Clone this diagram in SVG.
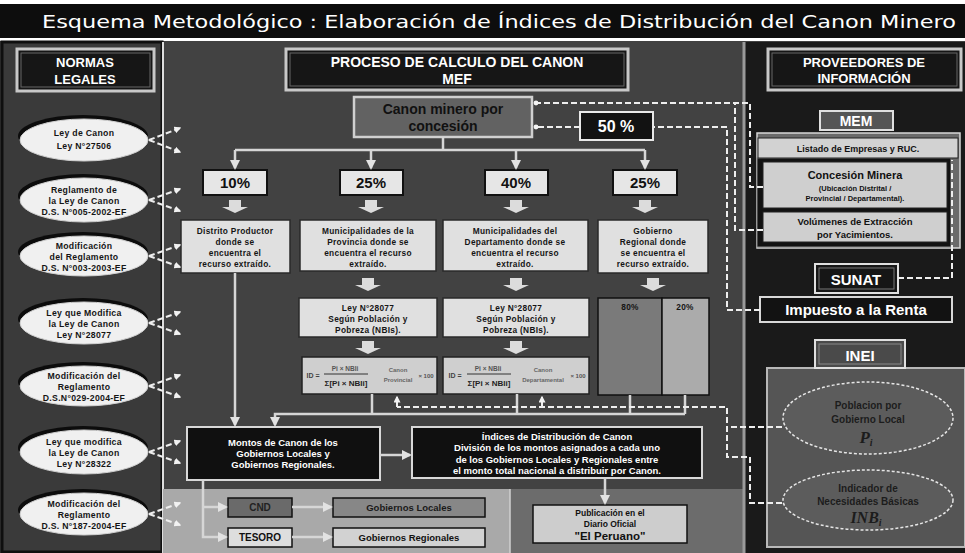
<svg xmlns="http://www.w3.org/2000/svg" width="965" height="553" viewBox="0 0 965 553">
<defs>
<marker id="ah" viewBox="0 0 10 10" refX="8" refY="5" markerWidth="4" markerHeight="4" orient="auto"><path d="M0,0 L10,5 L0,10 z" fill="#e2e2e2"/></marker>
<marker id="ahd" viewBox="0 0 10 10" refX="8" refY="5" markerWidth="3.5" markerHeight="3.5" orient="auto"><path d="M0,0 L10,5 L0,10 z" fill="#f2f2f2"/></marker>
<marker id="dot" viewBox="0 0 10 10" refX="5" refY="5" markerWidth="3" markerHeight="3"><circle cx="5" cy="5" r="4" fill="#f2f2f2"/></marker>
<path id="blk" d="M-6,0 L6,0 L6,7 L13,7 L0,13 L-13,7 L-6,7 Z" fill="#dcdcdc"/>
</defs>
<style>
text { font-family: "Liberation Sans", Arial, sans-serif; font-weight: bold; text-anchor: middle; }
.wt { fill: #ffffff; }
.bk { fill: #111111; }
.hdr { fill: #161616; stroke: #c8c8c8; stroke-width: 3; }
.hdr2 { fill: none; stroke: #666; stroke-width: 1; }
.pct { fill: #e6e6e6; stroke: #111; stroke-width: 2; }
.desc { fill: #e0e0e0; stroke: #2a2a2a; stroke-width: 1.5; }
.ell { fill: #f0f0f0; stroke: #cfcfcf; stroke-width: 1; }
.sh { fill: #0c0c0c; }
.ln { fill: none; stroke: #d6d6d6; stroke-width: 2.5; }
.dl { fill: none; stroke: #eeeeee; stroke-width: 2; stroke-dasharray: 6 3; }
.et { font-size: 8.7px; fill: #151515; letter-spacing: 0.3px; }
.dt { font-size: 8.3px; fill: #151515; letter-spacing: 0.3px; }
</style>

<!-- backgrounds -->
<rect x="0" y="0" width="965" height="553" fill="#ffffff"/>
<rect x="0" y="4" width="965" height="34" fill="#0d0d0d"/>
<rect x="0" y="41" width="965" height="512" fill="#424242"/>
<rect x="2" y="42" width="160" height="510" fill="#3a3a3a" stroke="#0f0f0f" stroke-width="3"/>
<line x1="163" y1="42" x2="163" y2="553" stroke="#dddddd" stroke-width="2"/>
<rect x="163" y="489" width="347" height="64" fill="#a9a9a9"/>
<rect x="510" y="489" width="234" height="64" fill="#6c6c6c"/>
<line x1="510" y1="489" x2="510" y2="553" stroke="#d0d0d0" stroke-width="1.5"/>
<rect x="744" y="42" width="221" height="511" fill="#1a1a1a"/>
<line x1="744" y1="42" x2="744" y2="553" stroke="#9a9a9a" stroke-width="3"/>

<g id="title">
<text x="42" y="28" style="font-family:'DejaVu Sans',Verdana,sans-serif;font-weight:normal;text-anchor:start;font-size:18px" fill="#ffffff" textLength="914" lengthAdjust="spacingAndGlyphs">Esquema Metodológico : Elaboración de Índices de Distribución del Canon Minero</text>
</g>

<!-- LEFT COLUMN -->
<g id="normas-legales">
<rect class="hdr" x="17" y="49" width="137" height="42"/>
<rect class="hdr2" x="21" y="53" width="129" height="34"/>
<text class="wt" x="85" y="67" font-size="13">NORMAS</text>
<text class="wt" x="85" y="84" font-size="13">LEGALES</text>
</g>

<g id="ley-canon">
<ellipse class="sh" cx="83" cy="136" rx="65" ry="21"/>
<ellipse class="ell" cx="84" cy="140" rx="64" ry="21"/>
<text class="et" x="84" y="136">Ley de Canon</text>
<text class="et" x="84" y="149">Ley N°27506</text>
</g>
<g id="reglamento-ley">
<ellipse class="sh" cx="83" cy="196" rx="65" ry="22"/>
<ellipse class="ell" cx="84" cy="200" rx="64" ry="22"/>
<text class="et" x="84" y="193">Reglamento de</text>
<text class="et" x="84" y="204">la Ley de Canon</text>
<text class="et" x="84" y="215">D.S. N°005-2002-EF</text>
</g>
<g id="modif-reglamento-2003">
<ellipse class="sh" cx="83" cy="252" rx="65" ry="20"/>
<ellipse class="ell" cx="84" cy="256" rx="64" ry="20"/>
<text class="et" x="84" y="249">Modificación</text>
<text class="et" x="84" y="260">del Reglamento</text>
<text class="et" x="84" y="271">D.S. N°003-2003-EF</text>
</g>
<g id="ley-28077">
<ellipse class="sh" cx="83" cy="319" rx="65" ry="21"/>
<ellipse class="ell" cx="84" cy="323" rx="64" ry="21"/>
<text class="et" x="84" y="316">Ley que Modifica</text>
<text class="et" x="84" y="327">la Ley de Canon</text>
<text class="et" x="84" y="338">Ley N°28077</text>
</g>
<g id="modif-reglamento-2004">
<ellipse class="sh" cx="83" cy="382" rx="65" ry="20"/>
<ellipse class="ell" cx="84" cy="386" rx="64" ry="20"/>
<text class="et" x="84" y="379">Modificación del</text>
<text class="et" x="84" y="390">Reglamento</text>
<text class="et" x="84" y="401">D.S.N°029-2004-EF</text>
</g>
<g id="ley-28322">
<ellipse class="sh" cx="83" cy="448" rx="65" ry="22"/>
<ellipse class="ell" cx="84" cy="452" rx="64" ry="22"/>
<text class="et" x="84" y="445">Ley que modifica</text>
<text class="et" x="84" y="456">la Ley de Canon</text>
<text class="et" x="84" y="467">Ley N°28322</text>
</g>
<g id="modif-reglamento-187">
<ellipse class="sh" cx="83" cy="510" rx="65" ry="21"/>
<ellipse class="ell" cx="84" cy="514" rx="64" ry="21"/>
<text class="et" x="84" y="507" font-size="8">Modificación del</text>
<text class="et" x="84" y="518" font-size="8">Reglamento</text>
<text class="et" x="84" y="529" font-size="8">D.S. N°187-2004-EF</text>
</g>

<!-- CENTER COLUMN -->
<g id="proceso-calculo">
<rect class="hdr" x="286" y="49" width="342" height="41"/>
<rect class="hdr2" x="290" y="53" width="334" height="33"/>
<text class="wt" x="457" y="67" font-size="14">PROCESO DE CALCULO DEL CANON</text>
<text class="wt" x="457" y="84" font-size="14">MEF</text>
</g>

<g id="canon-minero">
<rect x="354" y="97" width="178" height="40" fill="#626262" stroke="#d0d0d0" stroke-width="2.5"/>
<text class="bk" x="443" y="114" font-size="14">Canon minero por</text>
<text class="bk" x="443" y="131" font-size="14">concesión</text>
</g>

<g id="pct-50">
<rect x="580" y="112" width="73" height="28" fill="#121212" stroke="#e8e8e8" stroke-width="2"/>
<text class="wt" x="616" y="132" font-size="16">50 %</text>
</g>

<g id="pct-10">
<rect class="pct" x="203" y="170" width="64" height="25"/>
<text class="bk" x="235" y="188" font-size="15">10%</text>
</g>
<g id="pct-25a">
<rect class="pct" x="340" y="170" width="63" height="25"/>
<text class="bk" x="371" y="188" font-size="15">25%</text>
</g>
<g id="pct-40">
<rect class="pct" x="485" y="170" width="63" height="25"/>
<text class="bk" x="516" y="188" font-size="15">40%</text>
</g>
<g id="pct-25b">
<rect class="pct" x="613" y="170" width="64" height="25"/>
<text class="bk" x="645" y="188" font-size="15">25%</text>
</g>

<g id="distrito-productor">
<rect class="desc" x="181" y="220" width="109" height="53"/>
<text class="dt" x="235" y="234">Distrito Productor</text>
<text class="dt" x="235" y="245">donde se</text>
<text class="dt" x="235" y="256">encuentra el</text>
<text class="dt" x="235" y="267">recurso extraído.</text>
</g>
<g id="municipalidades-provincia">
<rect class="desc" x="300" y="220" width="136" height="51"/>
<text class="dt" x="368" y="234">Municipalidades de la</text>
<text class="dt" x="368" y="245">Provincia donde se</text>
<text class="dt" x="368" y="256">encuentra el recurso</text>
<text class="dt" x="368" y="267">extraído.</text>
</g>
<g id="municipalidades-departamento">
<rect class="desc" x="443" y="220" width="145" height="51"/>
<text class="dt" x="515" y="234">Municipalidades del</text>
<text class="dt" x="515" y="245">Departamento donde se</text>
<text class="dt" x="515" y="256">encuentra el recurso</text>
<text class="dt" x="515" y="267">extraído.</text>
</g>
<g id="gobierno-regional">
<rect class="desc" x="598" y="220" width="110" height="53"/>
<text class="dt" x="653" y="234">Gobierno</text>
<text class="dt" x="653" y="245">Regional donde</text>
<text class="dt" x="653" y="256">se encuentra el</text>
<text class="dt" x="653" y="267">recurso extraído.</text>
</g>

<g id="ley-pobreza-prov">
<rect class="desc" x="299" y="298" width="138" height="39"/>
<text class="dt" x="368" y="311">Ley N°28077</text>
<text class="dt" x="368" y="322">Según Población y</text>
<text class="dt" x="368" y="333">Pobreza (NBIs).</text>
</g>
<g id="ley-pobreza-dep">
<rect class="desc" x="443" y="298" width="146" height="39"/>
<text class="dt" x="516" y="311">Ley N°28077</text>
<text class="dt" x="516" y="322">Según Población y</text>
<text class="dt" x="516" y="333">Pobreza (NBIs).</text>
</g>
<g id="reparto-regional">
<rect x="598" y="298" width="64" height="97" fill="#7a7a7a" stroke="#111" stroke-width="1.5"/>
<rect x="662" y="298" width="47" height="97" fill="#ababab" stroke="#111" stroke-width="1.5"/>
<text class="dt" x="630" y="310">80%</text>
<text class="dt" x="685" y="310">20%</text>
</g>

<g id="formula-prov">
<rect x="302" y="357" width="135" height="37" fill="#cfcfcf" stroke="#222" stroke-width="1.5"/>
<text x="313" y="378" font-size="7" fill="#444" font-weight="normal">ID =</text>
<text x="345" y="371" font-size="6.5" fill="#555" font-weight="normal">Pi × NBIi</text>
<line x1="324" y1="374" x2="368" y2="374" stroke="#333" stroke-width="1"/>
<text x="346" y="386" font-size="8" fill="#222">Σ[Pi × NBIi]</text>
<text x="398" y="372" font-size="6" fill="#666" font-weight="normal">Canon</text>
<text x="398" y="382" font-size="6" fill="#666" font-weight="normal">Provincial</text>
<text x="426" y="378" font-size="6" fill="#555" font-weight="normal">× 100</text>
</g>
<g id="formula-dep">
<rect x="443" y="357" width="146" height="37" fill="#cfcfcf" stroke="#222" stroke-width="1.5"/>
<text x="455" y="378" font-size="7" fill="#444" font-weight="normal">ID =</text>
<text x="488" y="371" font-size="6.5" fill="#555" font-weight="normal">Pi × NBIi</text>
<line x1="467" y1="374" x2="511" y2="374" stroke="#333" stroke-width="1"/>
<text x="489" y="386" font-size="8" fill="#222">Σ[Pi × NBIi]</text>
<text x="543" y="372" font-size="6" fill="#666" font-weight="normal">Canon</text>
<text x="543" y="382" font-size="6" fill="#666" font-weight="normal">Departamental</text>
<text x="578" y="378" font-size="6" fill="#555" font-weight="normal">× 100</text>
</g>

<g id="montos-canon">
<rect x="187" y="427" width="193" height="53" fill="#101010" stroke="#d8d8d8" stroke-width="2"/>
<text class="wt" x="283" y="446" font-size="9.5">Montos de Canon de los</text>
<text class="wt" x="283" y="457" font-size="9.5">Gobiernos Locales y</text>
<text class="wt" x="283" y="468" font-size="9.5">Gobiernos Regionales.</text>
</g>

<g id="indices-distribucion">
<rect x="412" y="427" width="290" height="51" fill="#101010" stroke="#d8d8d8" stroke-width="2"/>
<text class="wt" x="557" y="440" font-size="9.5" font-weight="normal">Índices de Distribución de Canon</text>
<text class="wt" x="557" y="451" font-size="9.5">División de los montos asignados a cada uno</text>
<text class="wt" x="557" y="463" font-size="9.5">de los Gobiernos Locales y Regionales entre</text>
<text class="wt" x="557" y="474" font-size="9.5">el monto total nacional a distribuir por Canon.</text>
</g>

<g id="cnd">
<rect x="228" y="498" width="64" height="19" fill="#6a6a6a" stroke="#111" stroke-width="1.5"/>
<text x="260" y="511" font-size="10" fill="#222">CND</text>
</g>
<g id="tesoro">
<rect x="228" y="528" width="64" height="19" fill="#dedede" stroke="#111" stroke-width="1.5"/>
<text class="bk" x="260" y="541" font-size="10">TESORO</text>
</g>
<g id="gobiernos-locales">
<rect x="333" y="498" width="152" height="19" fill="#878787" stroke="#111" stroke-width="1.5"/>
<text x="409" y="511" font-size="9.5" fill="#1a1a1a" font-weight="normal">Gobiernos Locales</text>
</g>
<g id="gobiernos-regionales">
<rect x="333" y="528" width="152" height="19" fill="#d2d2d2" stroke="#111" stroke-width="1.5"/>
<text class="bk" x="409" y="541" font-size="9.5">Gobiernos Regionales</text>
</g>

<g id="publicacion">
<rect x="533" y="505" width="154" height="38" fill="#cdcdcd" stroke="#111" stroke-width="1.5"/>
<text class="bk" x="610" y="516" font-size="8.5">Publicación en el</text>
<text class="bk" x="610" y="527" font-size="8.5" font-weight="normal">Diario Oficial</text>
<text class="bk" x="610" y="540" font-size="11.5" font-weight="normal">"El Peruano"</text>
</g>

<!-- RIGHT COLUMN -->
<g id="proveedores">
<rect class="hdr" x="768" y="49" width="193" height="41"/>
<rect class="hdr2" x="772" y="53" width="185" height="33"/>
<text class="wt" x="864" y="67" font-size="13">PROVEEDORES DE</text>
<text class="wt" x="864" y="83" font-size="13">INFORMACIÓN</text>
</g>

<g id="mem">
<rect x="757" y="133" width="203" height="115" fill="#6a6a6a" stroke="#d8d8d8" stroke-width="1.5"/>
<rect x="757" y="158" width="194" height="89" fill="#121212" stroke="#888" stroke-width="1"/>
<rect x="820" y="111" width="73" height="19" fill="#555" stroke="#e0e0e0" stroke-width="2"/>
<text class="wt" x="856" y="126" font-size="14">MEM</text>
<g id="listado-empresas">
<rect x="758" y="138" width="200" height="20" fill="#d2d2d2" stroke="#222" stroke-width="1"/>
<text class="bk" x="858" y="152" font-size="9">Listado de Empresas y RUC.</text>
</g>
<g id="concesion-minera">
<rect x="763" y="162" width="184" height="46" fill="#cfcfcf" stroke="#222" stroke-width="1"/>
<text class="bk" x="855" y="179" font-size="11" font-weight="normal">Concesión Minera</text>
<text class="bk" x="855" y="191" font-size="7.5">(Ubicación Distrital /</text>
<text class="bk" x="855" y="201" font-size="7.5">Provincial / Departamental).</text>
</g>
<g id="volumenes">
<rect x="763" y="212" width="184" height="30" fill="#cfcfcf" stroke="#222" stroke-width="1"/>
<text class="bk" x="855" y="225" font-size="9.5" font-weight="normal">Volúmenes de Extracción</text>
<text class="bk" x="855" y="238" font-size="9.5" font-weight="normal">por Yacimientos.</text>
</g>
</g>

<g id="sunat">
<rect x="815" y="264" width="83" height="29" fill="#161616" stroke="#e0e0e0" stroke-width="2"/>
<rect x="819" y="268" width="75" height="21" fill="none" stroke="#777" stroke-width="1"/>
<text class="wt" x="856" y="285" font-size="15">SUNAT</text>
</g>
<g id="impuesto-renta">
<rect x="760" y="297" width="192" height="25" fill="#121212" stroke="#d8d8d8" stroke-width="2"/>
<text class="wt" x="856" y="315" font-size="15">Impuesto a la Renta</text>
</g>

<g id="inei">
<rect x="767" y="368" width="198" height="179" fill="#555555" stroke="#b8b8b8" stroke-width="2"/>
<rect x="815" y="340" width="90" height="28" fill="#4a4a4a" stroke="#e0e0e0" stroke-width="2"/>
<rect x="819" y="344" width="82" height="20" fill="none" stroke="#888" stroke-width="1"/>
<text class="wt" x="860" y="361" font-size="15">INEI</text>
<g id="poblacion">
<ellipse cx="868" cy="418" rx="85" ry="36" fill="#5c5c5c" stroke="#e6e6e6" stroke-width="1.5" stroke-dasharray="3 2"/>
<text x="868" y="409" font-size="10" fill="#1c1c1c" font-weight="normal">Poblacion por</text>
<text x="868" y="423" font-size="10" fill="#1c1c1c" font-weight="normal">Gobierno Local</text>
<text x="866" y="443" font-size="17" fill="#1c1c1c" font-weight="normal" font-style="italic" style="font-family:'Liberation Serif',serif">P<tspan font-size="10" dy="3">i</tspan></text>
</g>
<g id="nbi">
<ellipse cx="868" cy="500" rx="85" ry="30" fill="#5c5c5c" stroke="#e6e6e6" stroke-width="1.5" stroke-dasharray="3 2"/>
<text x="868" y="492" font-size="10" fill="#1c1c1c" font-weight="normal">Indicador de</text>
<text x="868" y="505" font-size="10" fill="#1c1c1c" font-weight="normal">Necesidades Básicas</text>
<text x="866" y="523" font-size="16" fill="#1c1c1c" font-weight="normal" font-style="italic" style="font-family:'Liberation Serif',serif">INB<tspan font-size="10" dy="3">i</tspan></text>
</g>
</g>

<!-- CONNECTORS -->
<g id="connectors">
<g class="dl" marker-end="url(#ahd)">
<path d="M149,140 L180,128"/><path d="M149,140 L180,152"/>
<path d="M149,200 L180,189"/><path d="M149,200 L180,211"/>
<path d="M149,256 L180,245"/><path d="M149,256 L180,267"/>
<path d="M149,323 L180,312"/><path d="M149,323 L180,334"/>
<path d="M149,386 L180,375"/><path d="M149,386 L180,397"/>
<path d="M149,452 L180,441"/><path d="M149,452 L180,463"/>
<path d="M149,514 L180,503"/><path d="M149,514 L180,525"/>
</g>
<path class="ln" d="M443,137 L443,150"/>
<path class="ln" d="M235,150 L645,150"/>
<path class="ln" d="M235,150 L235,168" marker-end="url(#ah)"/>
<path class="ln" d="M371,150 L371,168" marker-end="url(#ah)"/>
<path class="ln" d="M516,150 L516,168" marker-end="url(#ah)"/>
<path class="ln" d="M645,150 L645,168" marker-end="url(#ah)"/>
<use href="#blk" x="235" y="200"/>
<use href="#blk" x="371" y="200"/>
<use href="#blk" x="516" y="200"/>
<use href="#blk" x="645" y="200"/>
<use href="#blk" x="368" y="278"/>
<use href="#blk" x="516" y="278"/>
<use href="#blk" x="653" y="278"/>
<use href="#blk" x="368" y="341"/>
<use href="#blk" x="516" y="341"/>
<path class="ln" d="M235,273 L235,425" marker-end="url(#ah)"/>
<path class="ln" d="M372,394 L372,414"/>
<path class="ln" d="M517,394 L517,414"/>
<path class="ln" d="M630,395 L630,414"/>
<path class="ln" d="M685,395 L685,414"/>
<path class="ln" d="M685,414 L275,414 L275,425" marker-end="url(#ah)"/>
<path class="ln" d="M380,455 L410,455" marker-end="url(#ah)"/>
<path class="ln" d="M605,478 L605,503" marker-end="url(#ah)"/>
<path class="ln" d="M203,480 L203,537 L226,537" marker-end="url(#ah)"/>
<path class="ln" d="M203,507 L226,507" marker-end="url(#ah)"/>
<path class="ln" d="M292,507 L331,507" marker-end="url(#ah)"/>
<path class="ln" d="M292,537 L331,537" marker-end="url(#ah)"/>
<path class="dl" d="M763,187 L750,187 L750,103 L536,103" marker-end="url(#dot)"/>
<path class="dl" d="M763,230 L735,230 L735,103"/>
<path class="dl" d="M760,310 L727,310 L727,127 L654,127"/>
<path class="dl" d="M580,127 L536,127" marker-end="url(#dot)"/>
<path class="dl" d="M898,278 L952,278 L952,160"/>
<path class="dl" d="M782,427 L727,427"/>
<path class="dl" d="M782,503 L750,503 L750,457 L727,457 L727,407 L397,407"/>
<path class="dl" d="M397,407 L397,397" marker-end="url(#ahd)"/>
<path class="dl" d="M542,407 L542,397" marker-end="url(#ahd)"/>
</g>
</svg>
